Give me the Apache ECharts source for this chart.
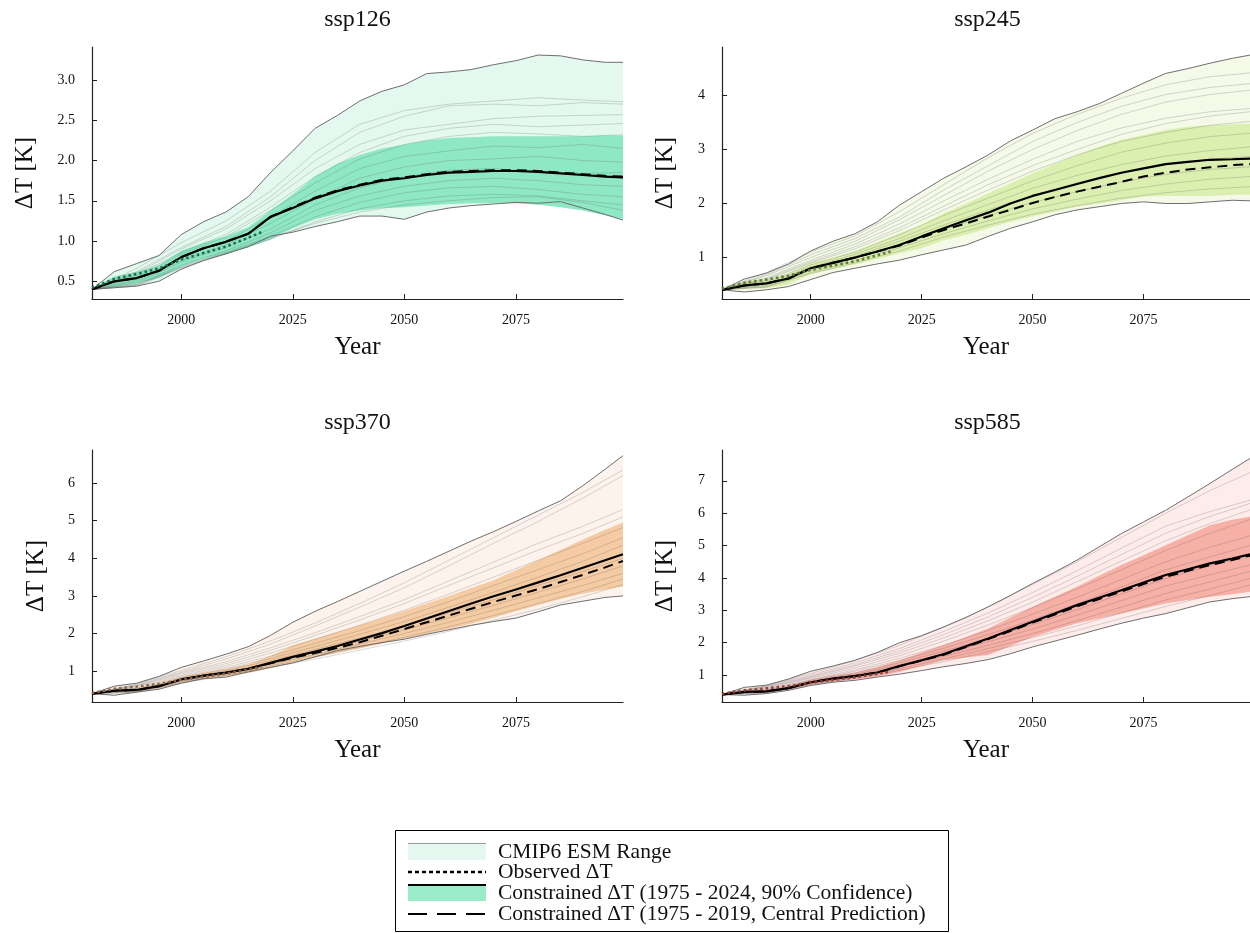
<!DOCTYPE html>
<html>
<head>
<meta charset="utf-8">
<script src="https://cdn.jsdelivr.net/npm/echarts@6/dist/echarts.min.js"></script>
<style>
html, body { margin: 0; padding: 0; background: #fff; }
#chart { width: 1250px; height: 933px; }
</style>
</head>
<body>
<div id="chart"></div>
<script>
// years for envelopes / constrained projections
const years = [1980, 1985, 1990, 1995, 2000, 2005, 2010, 2015, 2020, 2025, 2030, 2035, 2040,
    2045, 2050, 2055, 2060, 2065, 2070, 2075, 2080, 2085, 2090, 2095, 2099]
// years for the individual CMIP6 model runs
const modelYears = [1980, 1990, 2000, 2010, 2020, 2030, 2040, 2050, 2060, 2070, 2080, 2090, 2099]
const obsYears = [1980, 1985, 1990, 1995, 2000, 2005, 2010, 2015, 2018]
const observed = [0.42, 0.53, 0.59, 0.66, 0.77, 0.85, 0.93, 1.04, 1.11]
const xTicks = [2000, 2025, 2050, 2075]

// ssp126
const ssp126Upper = [0.40, 0.62, 0.72, 0.82, 1.08, 1.24, 1.36, 1.55, 1.85, 2.12, 2.40, 2.56, 2.74, 2.86, 2.94, 3.08, 3.10, 3.13, 3.19, 3.24, 3.31, 3.30, 3.25, 3.22, 3.22]
const ssp126Lower = [0.40, 0.42, 0.44, 0.50, 0.65, 0.76, 0.84, 0.93, 1.06, 1.11, 1.18, 1.24, 1.31, 1.31, 1.27, 1.36, 1.41, 1.44, 1.46, 1.48, 1.47, 1.49, 1.41, 1.33, 1.26]
const ssp126BandHi = [0.41, 0.56, 0.62, 0.70, 0.88, 0.98, 1.06, 1.17, 1.38, 1.58, 1.80, 1.96, 2.07, 2.15, 2.20, 2.25, 2.28, 2.29, 2.30, 2.30, 2.30, 2.30, 2.30, 2.31, 2.31]
const ssp126BandLo = [0.39, 0.43, 0.47, 0.54, 0.68, 0.78, 0.84, 0.92, 1.02, 1.16, 1.27, 1.34, 1.38, 1.41, 1.42, 1.44, 1.46, 1.47, 1.47, 1.47, 1.45, 1.42, 1.38, 1.32, 1.27]
const ssp126Median = [0.40, 0.50, 0.54, 0.63, 0.80, 0.91, 0.99, 1.09, 1.30, 1.41, 1.53, 1.62, 1.69, 1.75, 1.78, 1.82, 1.85, 1.86, 1.87, 1.87, 1.86, 1.84, 1.82, 1.80, 1.79]
const ssp126Central = [0.40, 0.50, 0.54, 0.63, 0.80, 0.91, 0.99, 1.09, 1.30, 1.42, 1.54, 1.63, 1.70, 1.76, 1.79, 1.83, 1.86, 1.87, 1.88, 1.88, 1.87, 1.85, 1.83, 1.81, 1.80]
const ssp126Models = [
    [0.40, 0.66, 0.98, 1.25, 1.62, 2.10, 2.45, 2.62, 2.70, 2.74, 2.78, 2.75, 2.73],
    [0.40, 0.62, 0.92, 1.18, 1.55, 2.00, 2.35, 2.55, 2.68, 2.70, 2.68, 2.72, 2.70],
    [0.40, 0.60, 0.90, 1.15, 1.50, 1.90, 2.20, 2.38, 2.45, 2.52, 2.55, 2.56, 2.57],
    [0.40, 0.58, 0.86, 1.08, 1.42, 1.80, 2.10, 2.30, 2.40, 2.45, 2.42, 2.44, 2.46],
    [0.40, 0.55, 0.84, 1.05, 1.38, 1.72, 2.02, 2.20, 2.30, 2.35, 2.33, 2.30, 2.32],
    [0.40, 0.52, 0.80, 1.00, 1.30, 1.62, 1.90, 2.05, 2.12, 2.18, 2.16, 2.20, 2.15],
    [0.40, 0.50, 0.76, 0.95, 1.22, 1.52, 1.78, 1.92, 2.00, 2.02, 2.05, 2.00, 1.98],
    [0.40, 0.48, 0.74, 0.92, 1.15, 1.45, 1.66, 1.80, 1.88, 1.90, 1.86, 1.84, 1.85],
    [0.40, 0.46, 0.70, 0.88, 1.10, 1.38, 1.56, 1.68, 1.75, 1.78, 1.75, 1.70, 1.68],
    [0.40, 0.46, 0.68, 0.86, 1.06, 1.30, 1.48, 1.60, 1.66, 1.68, 1.64, 1.58, 1.55],
    [0.40, 0.44, 0.66, 0.84, 1.02, 1.24, 1.40, 1.50, 1.56, 1.58, 1.56, 1.50, 1.45],
    [0.40, 0.45, 0.67, 0.85, 1.04, 1.22, 1.36, 1.45, 1.50, 1.54, 1.55, 1.48, 1.38]
]

// ssp245
const ssp245Upper = [0.40, 0.60, 0.71, 0.88, 1.12, 1.30, 1.44, 1.66, 1.97, 2.22, 2.47, 2.68, 2.90, 3.16, 3.36, 3.57, 3.70, 3.85, 4.04, 4.23, 4.41, 4.50, 4.60, 4.69, 4.75]
const ssp245Lower = [0.40, 0.36, 0.40, 0.46, 0.59, 0.72, 0.80, 0.88, 0.95, 1.05, 1.14, 1.23, 1.39, 1.54, 1.66, 1.79, 1.88, 1.94, 2.00, 2.03, 2.00, 2.00, 2.03, 2.06, 2.05]
const ssp245BandHi = [0.41, 0.54, 0.58, 0.70, 0.90, 1.00, 1.12, 1.28, 1.45, 1.60, 1.82, 2.00, 2.19, 2.37, 2.56, 2.73, 2.90, 3.05, 3.18, 3.27, 3.36, 3.42, 3.45, 3.47, 3.48]
const ssp245BandLo = [0.39, 0.42, 0.43, 0.50, 0.70, 0.78, 0.87, 0.97, 1.08, 1.17, 1.32, 1.42, 1.54, 1.66, 1.76, 1.85, 1.94, 2.00, 2.06, 2.13, 2.14, 2.14, 2.14, 2.16, 2.16]
const ssp245Median = [0.40, 0.48, 0.52, 0.61, 0.80, 0.90, 1.00, 1.11, 1.23, 1.39, 1.54, 1.69, 1.83, 2.00, 2.14, 2.25, 2.36, 2.47, 2.57, 2.65, 2.73, 2.77, 2.81, 2.82, 2.83]
const ssp245Central = [0.40, 0.48, 0.52, 0.61, 0.80, 0.90, 1.00, 1.11, 1.22, 1.37, 1.51, 1.63, 1.76, 1.88, 2.01, 2.12, 2.22, 2.31, 2.40, 2.50, 2.57, 2.63, 2.67, 2.71, 2.73]
const ssp245Models = [
    [0.40, 0.72, 1.10, 1.40, 1.85, 2.35, 2.85, 3.30, 3.65, 3.95, 4.20, 4.35, 4.42],
    [0.40, 0.68, 1.05, 1.35, 1.75, 2.25, 2.70, 3.15, 3.50, 3.80, 4.02, 4.15, 4.22],
    [0.40, 0.66, 1.00, 1.30, 1.70, 2.15, 2.60, 3.00, 3.35, 3.65, 3.88, 4.02, 4.10],
    [0.40, 0.62, 0.95, 1.25, 1.62, 2.05, 2.45, 2.82, 3.15, 3.40, 3.58, 3.70, 3.76],
    [0.40, 0.60, 0.92, 1.20, 1.55, 1.95, 2.35, 2.70, 3.00, 3.28, 3.48, 3.62, 3.70],
    [0.40, 0.58, 0.90, 1.16, 1.50, 1.88, 2.25, 2.60, 2.90, 3.15, 3.32, 3.45, 3.52],
    [0.40, 0.55, 0.86, 1.10, 1.42, 1.78, 2.10, 2.42, 2.70, 2.95, 3.12, 3.24, 3.30],
    [0.40, 0.52, 0.82, 1.06, 1.35, 1.68, 1.98, 2.28, 2.52, 2.72, 2.88, 2.98, 3.05],
    [0.40, 0.50, 0.80, 1.02, 1.30, 1.60, 1.88, 2.14, 2.38, 2.56, 2.72, 2.82, 2.87],
    [0.40, 0.48, 0.76, 0.98, 1.24, 1.52, 1.78, 2.02, 2.22, 2.40, 2.54, 2.63, 2.68],
    [0.40, 0.46, 0.72, 0.94, 1.18, 1.44, 1.68, 1.90, 2.08, 2.24, 2.36, 2.45, 2.50],
    [0.40, 0.45, 0.70, 0.90, 1.12, 1.38, 1.60, 1.80, 1.96, 2.10, 2.20, 2.27, 2.31]
]

// ssp370
const ssp370Upper = [0.40, 0.60, 0.68, 0.86, 1.10, 1.27, 1.45, 1.65, 1.95, 2.30, 2.59, 2.85, 3.12, 3.39, 3.66, 3.92, 4.19, 4.46, 4.71, 4.98, 5.26, 5.53, 5.93, 6.37, 6.73]
const ssp370Lower = [0.40, 0.36, 0.44, 0.52, 0.68, 0.80, 0.84, 0.98, 1.10, 1.22, 1.38, 1.55, 1.66, 1.76, 1.85, 1.98, 2.10, 2.22, 2.32, 2.41, 2.58, 2.76, 2.86, 2.96, 3.00]
const ssp370BandHi = [0.41, 0.52, 0.55, 0.66, 0.85, 0.96, 1.06, 1.18, 1.40, 1.68, 1.86, 2.04, 2.22, 2.41, 2.60, 2.80, 3.00, 3.21, 3.42, 3.68, 3.95, 4.22, 4.50, 4.76, 4.95]
const ssp370BandLo = [0.39, 0.44, 0.45, 0.54, 0.70, 0.80, 0.87, 0.95, 1.08, 1.24, 1.36, 1.48, 1.60, 1.73, 1.86, 1.99, 2.12, 2.26, 2.42, 2.59, 2.76, 2.92, 3.06, 3.17, 3.25]
const ssp370Median = [0.40, 0.48, 0.50, 0.60, 0.78, 0.88, 0.96, 1.06, 1.22, 1.38, 1.52, 1.67, 1.84, 2.01, 2.20, 2.40, 2.60, 2.80, 2.99, 3.17, 3.36, 3.55, 3.75, 3.95, 4.11]
const ssp370Central = [0.40, 0.48, 0.50, 0.60, 0.78, 0.88, 0.96, 1.06, 1.21, 1.36, 1.48, 1.62, 1.77, 1.94, 2.12, 2.30, 2.48, 2.66, 2.84, 3.01, 3.18, 3.37, 3.56, 3.76, 3.93]
const ssp370Models = [
    [0.40, 0.66, 1.02, 1.38, 1.80, 2.28, 2.80, 3.35, 3.95, 4.55, 5.15, 5.75, 6.35],
    [0.40, 0.64, 0.98, 1.32, 1.72, 2.20, 2.70, 3.22, 3.80, 4.40, 4.98, 5.60, 6.20],
    [0.40, 0.62, 0.95, 1.25, 1.62, 2.02, 2.45, 2.90, 3.40, 3.90, 4.40, 4.85, 5.30],
    [0.40, 0.60, 0.92, 1.20, 1.55, 1.95, 2.36, 2.80, 3.28, 3.75, 4.22, 4.66, 5.10],
    [0.40, 0.58, 0.88, 1.15, 1.48, 1.85, 2.22, 2.62, 3.05, 3.50, 3.95, 4.40, 4.82],
    [0.40, 0.55, 0.85, 1.10, 1.40, 1.74, 2.08, 2.45, 2.85, 3.28, 3.70, 4.12, 4.55],
    [0.40, 0.52, 0.82, 1.06, 1.34, 1.65, 1.98, 2.32, 2.70, 3.10, 3.50, 3.92, 4.35],
    [0.40, 0.50, 0.78, 1.02, 1.28, 1.58, 1.88, 2.20, 2.55, 2.90, 3.28, 3.65, 4.00],
    [0.40, 0.48, 0.75, 0.98, 1.22, 1.50, 1.80, 2.10, 2.42, 2.75, 3.10, 3.45, 3.80],
    [0.40, 0.46, 0.72, 0.94, 1.18, 1.44, 1.72, 2.00, 2.30, 2.62, 2.95, 3.28, 3.60],
    [0.40, 0.45, 0.70, 0.90, 1.14, 1.38, 1.64, 1.90, 2.18, 2.48, 2.80, 3.12, 3.45],
    [0.40, 0.44, 0.68, 0.88, 1.10, 1.32, 1.56, 1.80, 2.06, 2.35, 2.65, 2.98, 3.30]
]

// ssp585
const ssp585Upper = [0.40, 0.62, 0.69, 0.88, 1.12, 1.28, 1.46, 1.70, 2.00, 2.22, 2.49, 2.78, 3.11, 3.46, 3.83, 4.18, 4.55, 4.96, 5.37, 5.73, 6.09, 6.50, 6.92, 7.35, 7.69]
const ssp585Lower = [0.40, 0.38, 0.43, 0.53, 0.68, 0.78, 0.84, 0.94, 1.03, 1.14, 1.26, 1.36, 1.48, 1.66, 1.87, 2.05, 2.23, 2.42, 2.60, 2.76, 2.90, 3.08, 3.26, 3.36, 3.42]
const ssp585BandHi = [0.41, 0.52, 0.55, 0.66, 0.86, 0.98, 1.08, 1.24, 1.46, 1.70, 1.93, 2.18, 2.44, 2.78, 3.11, 3.42, 3.73, 4.07, 4.40, 4.70, 5.01, 5.32, 5.63, 5.80, 5.89]
const ssp585BandLo = [0.39, 0.44, 0.45, 0.54, 0.70, 0.80, 0.87, 0.96, 1.10, 1.28, 1.46, 1.54, 1.62, 1.90, 2.18, 2.39, 2.60, 2.75, 2.90, 3.06, 3.21, 3.32, 3.42, 3.50, 3.57]
const ssp585Median = [0.40, 0.48, 0.50, 0.60, 0.78, 0.89, 0.97, 1.08, 1.28, 1.46, 1.65, 1.89, 2.13, 2.39, 2.65, 2.90, 3.16, 3.39, 3.62, 3.86, 4.09, 4.27, 4.45, 4.60, 4.73]
const ssp585Central = [0.40, 0.48, 0.50, 0.60, 0.78, 0.89, 0.97, 1.08, 1.27, 1.45, 1.63, 1.87, 2.11, 2.36, 2.62, 2.87, 3.12, 3.35, 3.58, 3.81, 4.04, 4.22, 4.40, 4.55, 4.69]
const ssp585Models = [
    [0.40, 0.68, 1.05, 1.45, 1.92, 2.48, 3.10, 3.80, 4.50, 5.25, 6.00, 6.70, 7.25],
    [0.40, 0.66, 1.00, 1.38, 1.82, 2.35, 2.92, 3.55, 4.22, 4.92, 5.60, 6.05, 6.40],
    [0.40, 0.64, 0.96, 1.32, 1.75, 2.25, 2.80, 3.40, 4.05, 4.72, 5.38, 5.90, 6.30],
    [0.40, 0.62, 0.93, 1.28, 1.68, 2.15, 2.68, 3.25, 3.88, 4.52, 5.15, 5.68, 6.10],
    [0.40, 0.60, 0.90, 1.22, 1.60, 2.05, 2.55, 3.08, 3.66, 4.25, 4.85, 5.38, 5.80],
    [0.40, 0.57, 0.86, 1.16, 1.52, 1.92, 2.38, 2.88, 3.40, 3.95, 4.50, 4.95, 5.30],
    [0.40, 0.55, 0.84, 1.12, 1.45, 1.83, 2.25, 2.70, 3.20, 3.72, 4.25, 4.65, 5.00],
    [0.40, 0.52, 0.80, 1.07, 1.38, 1.74, 2.14, 2.56, 3.02, 3.50, 3.98, 4.38, 4.70],
    [0.40, 0.50, 0.78, 1.02, 1.32, 1.66, 2.03, 2.42, 2.85, 3.30, 3.75, 4.10, 4.40],
    [0.40, 0.48, 0.75, 0.98, 1.26, 1.58, 1.92, 2.28, 2.68, 3.10, 3.52, 3.88, 4.20],
    [0.40, 0.46, 0.72, 0.94, 1.20, 1.50, 1.82, 2.16, 2.52, 2.92, 3.32, 3.66, 3.98],
    [0.40, 0.45, 0.70, 0.90, 1.15, 1.42, 1.72, 2.04, 2.38, 2.75, 3.12, 3.46, 3.78]
]

const FONT = "'Liberation Serif', 'DejaVu Serif', serif"

const panels = [
    {
        title: 'ssp126', left: 92, top: 47, yMin: 0.28, yMax: 3.41, digits: 1, nameGap: 54,
        yTicks: [0.5, 1.0, 1.5, 2.0, 2.5, 3.0],
        upper: ssp126Upper, lower: ssp126Lower, bandHi: ssp126BandHi, bandLo: ssp126BandLo,
        median: ssp126Median, central: ssp126Central, models: ssp126Models,
        rangeColor: '#e3f8ef', bandColor: '#8ee8c4', obsColor: '#1f6e4c'
    },
    {
        title: 'ssp245', left: 722, top: 47, yMin: 0.23, yMax: 4.9, digits: 0, nameGap: 44,
        yTicks: [1, 2, 3, 4],
        upper: ssp245Upper, lower: ssp245Lower, bandHi: ssp245BandHi, bandLo: ssp245BandLo,
        median: ssp245Median, central: ssp245Central, models: ssp245Models,
        rangeColor: '#f4f9e8', bandColor: '#dbefb0', obsColor: '#5f7d2e'
    },
    {
        title: 'ssp370', left: 92, top: 450, yMin: 0.18, yMax: 6.88, digits: 0, nameGap: 43,
        yTicks: [1, 2, 3, 4, 5, 6],
        upper: ssp370Upper, lower: ssp370Lower, bandHi: ssp370BandHi, bandLo: ssp370BandLo,
        median: ssp370Median, central: ssp370Central, models: ssp370Models,
        rangeColor: '#fdf3ec', bandColor: '#f5cba3', obsColor: '#8a6445'
    },
    {
        title: 'ssp585', left: 722, top: 450, yMin: 0.17, yMax: 7.95, digits: 0, nameGap: 44,
        yTicks: [1, 2, 3, 4, 5, 6, 7],
        upper: ssp585Upper, lower: ssp585Lower, bandHi: ssp585BandHi, bandLo: ssp585BandLo,
        median: ssp585Median, central: ssp585Central, models: ssp585Models,
        rangeColor: '#fdecea', bandColor: '#f6b0a6', obsColor: '#963f34'
    }
]

const pairs = (xs, ys) => xs.map((x, k) => [x, ys[k]])

function bandSeries(i, xs, lo, hi, color, z) {
    return {
        type: 'custom', xAxisIndex: i, yAxisIndex: i, z: z, silent: true,
        data: [[xs[0], lo[0]]],
        renderItem: (params, api) => {
            const pts = xs.map((x, k) => api.coord([x, hi[k]]))
            for (let k = xs.length - 1; k >= 0; k--) {
                pts.push(api.coord([xs[k], lo[k]]))
            }
            return { type: 'polygon', shape: { points: pts }, style: { fill: color } }
        }
    }
}

function lineSeries(i, xs, ys, lineStyle, z) {
    return {
        type: 'line', xAxisIndex: i, yAxisIndex: i, z: z, silent: true,
        data: pairs(xs, ys), symbol: 'none', showSymbol: false,
        lineStyle: lineStyle
    }
}

const grids = []
const xAxes = []
const yAxes = []
const series = []
const graphics = []

panels.forEach((p, i) => {
    grids.push({ left: p.left, top: p.top, width: 531, height: 252 })
    xAxes.push({
        gridIndex: i, type: 'value', min: 1980, max: 2099,
        axisLine: { show: true, lineStyle: { color: '#222', width: 1.2 } },
        axisTick: { show: true, inside: true, length: 5, customValues: xTicks, lineStyle: { color: '#222' } },
        axisLabel: {
            customValues: xTicks, margin: 14, fontFamily: FONT, fontSize: 14, color: '#111',
            formatter: (v) => String(v)
        },
        splitLine: { show: false },
        name: 'Year', nameLocation: 'middle', nameGap: 36,
        nameTextStyle: { fontFamily: FONT, fontSize: 25, color: '#111' }
    })
    yAxes.push({
        gridIndex: i, type: 'value', min: p.yMin, max: p.yMax,
        axisLine: { show: true, lineStyle: { color: '#222', width: 1.2 } },
        axisTick: { show: true, inside: true, length: 5, customValues: p.yTicks, lineStyle: { color: '#222' } },
        axisLabel: {
            customValues: p.yTicks, margin: 17, fontFamily: FONT, fontSize: 14, color: '#111',
            formatter: (v) => Number(v).toFixed(p.digits)
        },
        splitLine: { show: false },
        name: 'ΔT [K]', nameLocation: 'middle', nameRotate: 90, nameGap: p.nameGap,
        nameTextStyle: { fontFamily: FONT, fontSize: 25, color: '#111' }
    })

    series.push(bandSeries(i, years, p.lower, p.upper, p.rangeColor, 1))
    series.push(bandSeries(i, years, p.bandLo, p.bandHi, p.bandColor, 2))
    p.models.forEach((m) => {
        series.push(lineSeries(i, modelYears, m, { color: 'rgba(90,90,90,0.24)', width: 1 }, 3))
    })
    series.push(lineSeries(i, years, p.upper, { color: '#6e6e6e', width: 1 }, 4))
    series.push(lineSeries(i, years, p.lower, { color: '#6e6e6e', width: 1 }, 4))
    series.push(lineSeries(i, years, p.central, { color: '#000', width: 2, type: [10, 6] }, 5))
    series.push(lineSeries(i, years, p.median, { color: '#000', width: 2.2 }, 6))
    series.push(lineSeries(i, obsYears, observed, { color: p.obsColor, width: 2.6, type: [2.5, 3] }, 7))

    graphics.push({
        type: 'text', x: p.left + 531 / 2, y: p.top - 27,
        style: { text: p.title, font: '24px ' + FONT, fill: '#111', align: 'center', verticalAlign: 'middle' }
    })
})

// legend box
const legendItems = [
    'CMIP6 ESM Range',
    'Observed ΔT',
    'Constrained ΔT (1975 - 2024, 90% Confidence)',
    'Constrained ΔT (1975 - 2019, Central Prediction)'
]
const legendRows = [852, 872, 893, 914]
graphics.push(
    { type: 'rect', shape: { x: 395.5, y: 830.5, width: 553, height: 101 }, style: { fill: '#fff', stroke: '#000', lineWidth: 1 }, z: 10 },
    { type: 'rect', shape: { x: 408, y: 843, width: 78, height: 17 }, style: { fill: '#e4f8ef' }, z: 11 },
    { type: 'line', shape: { x1: 408, y1: 843.5, x2: 486, y2: 843.5 }, style: { stroke: '#999', lineWidth: 1 }, z: 12 },
    { type: 'line', shape: { x1: 408, y1: 872, x2: 486, y2: 872 }, style: { stroke: '#000', lineWidth: 2.5, lineDash: [4, 3] }, z: 12 },
    { type: 'rect', shape: { x: 408, y: 885, width: 78, height: 16 }, style: { fill: '#98ecc8' }, z: 11 },
    { type: 'line', shape: { x1: 408, y1: 885, x2: 486, y2: 885 }, style: { stroke: '#000', lineWidth: 2 }, z: 12 },
    { type: 'line', shape: { x1: 408, y1: 914, x2: 486, y2: 914 }, style: { stroke: '#000', lineWidth: 2, lineDash: [19, 10] }, z: 12 }
)
legendItems.forEach((t, k) => {
    graphics.push({
        type: 'text', x: 498, y: legendRows[k], z: 12,
        style: { text: t, font: '21.5px ' + FONT, fill: '#111', verticalAlign: 'middle' }
    })
})

const chart = echarts.init(document.getElementById('chart'), null, { renderer: 'canvas' })
chart.setOption({
    animation: false,
    backgroundColor: '#fff',
    grid: grids,
    xAxis: xAxes,
    yAxis: yAxes,
    series: series,
    graphic: graphics
})
</script>
</body>
</html>
